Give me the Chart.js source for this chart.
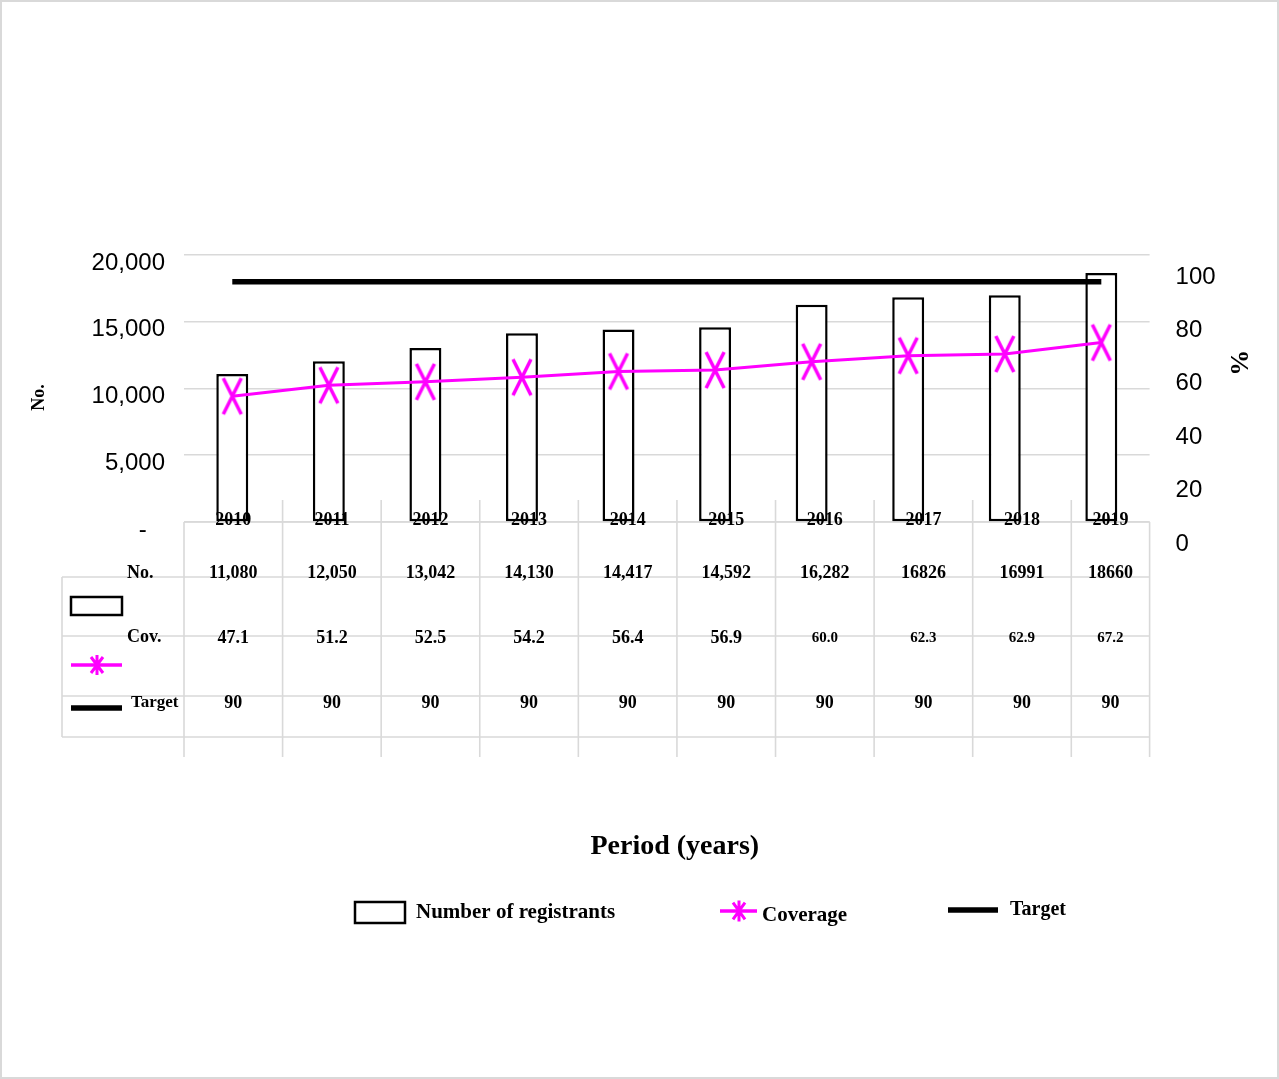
<!DOCTYPE html>
<html>
<head>
<meta charset="utf-8">
<title>Registrants and coverage, 2010–2019</title>
<script src="https://cdn.jsdelivr.net/npm/chart.js@4.4.1/dist/chart.umd.min.js"></script>
<style>
  html, body { margin: 0; padding: 0; background: #ffffff; }
  canvas { display: block; }
</style>
</head>
<body>
<canvas id="chart" width="1279" height="1079"></canvas>
<script>
// ---- data ----
const years = ['2010', '2011', '2012', '2013', '2014', '2015', '2016', '2017', '2018', '2019'];
const registrants = [11080, 12050, 13042, 14130, 14417, 14592, 16282, 16826, 16991, 18660];
const coverage = [47.1, 51.2, 52.5, 54.2, 56.4, 56.9, 60.0, 62.3, 62.9, 67.2];
const target = [90, 90, 90, 90, 90, 90, 90, 90, 90, 90];
// whether the "No." row of the data table shows thousands separators
const groupedDigits = [true, true, true, true, true, true, true, false, false, false];
const rowNames = ['No.', 'Cov.', 'Target'];
const seriesNames = ['Number of registrants', 'Coverage', 'Target'];

// ---- styling ----
const SERIF = '"Liberation Serif", "Times New Roman", serif';
const SANS = '"Liberation Sans", Arial, sans-serif';
const MAGENTA = '#ff00ff';
const GRID = '#d9d9d9';

// tall X marker used for the coverage points
function tallCross() {
  const c = document.createElement('canvas');
  c.width = 24; c.height = 40;
  const g = c.getContext('2d');
  g.strokeStyle = MAGENTA;
  g.lineWidth = 3.5;
  g.beginPath();
  g.moveTo(3, 2); g.lineTo(21, 38);
  g.moveTo(21, 2); g.lineTo(3, 38);
  g.stroke();
  return c;
}

function line(ctx, x1, y1, x2, y2) {
  ctx.beginPath();
  ctx.moveTo(x1, y1);
  ctx.lineTo(x2, y2);
  ctx.stroke();
}

// small asterisk used in the legend keys
function asterisk(ctx, cx, cy, w, h) {
  ctx.beginPath();
  ctx.moveTo(cx, cy - h / 2); ctx.lineTo(cx, cy + h / 2);
  ctx.moveTo(cx - w / 2, cy - h * 0.4); ctx.lineTo(cx + w / 2, cy + h * 0.4);
  ctx.moveTo(cx + w / 2, cy - h * 0.4); ctx.lineTo(cx - w / 2, cy + h * 0.4);
  ctx.stroke();
}

function barKey(ctx, x, y, w, h) {
  ctx.save();
  ctx.fillStyle = '#fff';
  ctx.strokeStyle = '#000';
  ctx.lineWidth = 2.5;
  ctx.fillRect(x, y, w, h);
  ctx.strokeRect(x, y, w, h);
  ctx.restore();
}
function coverageKey(ctx, x1, x2, y, starX, starW, starH) {
  ctx.save();
  ctx.strokeStyle = MAGENTA;
  ctx.lineWidth = 3.5;
  line(ctx, x1, y, x2, y);
  ctx.lineWidth = 3;
  asterisk(ctx, starX, y, starW, starH);
  ctx.restore();
}
function targetKey(ctx, x1, x2, y) {
  ctx.save();
  ctx.strokeStyle = '#000';
  ctx.lineWidth = 5.5;
  line(ctx, x1, y, x2, y);
  ctx.restore();
}

// table geometry derived from the category scale
function tableColumns(chart) {
  const area = chart.chartArea;
  const x = chart.scales.x;
  const catW = x.getPixelForValue(1) - x.getPixelForValue(0);
  const colW = catW * 1.021;
  const edges = [];
  for (let i = 0; i <= years.length; i++) {
    edges.push(Math.min(area.left + i * colW, area.right));
  }
  const centers = [];
  for (let i = 0; i < years.length; i++) centers.push((edges[i] + edges[i + 1]) / 2);
  return { edges, centers };
}

// data table under the plot area, plus the chart frame
const dataTable = {
  id: 'dataTable',
  beforeDraw(chart) {
    const ctx = chart.ctx;
    ctx.save();
    ctx.strokeStyle = GRID;
    ctx.lineWidth = 2;
    ctx.strokeRect(1, 1, chart.width - 2, chart.height - 2);
    ctx.restore();
  },
  beforeDatasetsDraw(chart) {
    const { ctx, chartArea: area } = chart;
    const { edges } = tableColumns(chart);
    const base = area.bottom;
    const rows = [base + 55, base + 114, base + 174, base + 215];
    const keyLeft = 62;
    ctx.save();
    ctx.strokeStyle = GRID;
    ctx.lineWidth = 1.6;
    line(ctx, area.left, base, area.right, base);
    rows.forEach(y => line(ctx, keyLeft, y, area.right, y));
    line(ctx, keyLeft, rows[0], keyLeft, rows[3]);
    edges.forEach((ex, i) => {
      const top = (i === 0 || i === edges.length - 1) ? base : base - 22;
      line(ctx, ex, top, ex, base + 235);
    });
    ctx.restore();
  },
  afterDatasetsDraw(chart) {
    const { ctx, chartArea: area } = chart;
    const { centers } = tableColumns(chart);
    const base = area.bottom;
    ctx.save();
    ctx.fillStyle = '#000';
    ctx.textAlign = 'center';
    ctx.textBaseline = 'middle';
    ctx.font = 'bold 18px ' + SERIF;

    // category header row
    years.forEach((yr, i) => ctx.fillText(yr, centers[i], base - 2));

    // value rows
    registrants.forEach((v, i) => {
      const txt = groupedDigits[i] ? v.toLocaleString('en-US') : String(v);
      ctx.fillText(txt, centers[i], base + 51);
    });
    coverage.forEach((v, i) => {
      ctx.font = 'bold ' + (i >= 6 ? 15 : 18) + 'px ' + SERIF;
      ctx.fillText(v.toFixed(1), centers[i], base + 116);
    });
    ctx.font = 'bold 18px ' + SERIF;
    target.forEach((v, i) => ctx.fillText(String(v), centers[i], base + 181));

    // row headers
    ctx.textAlign = 'left';
    ctx.fillText(rowNames[0], 127, base + 51);
    ctx.fillText(rowNames[1], 127, base + 115);
    ctx.font = 'bold 17px ' + SERIF;
    ctx.fillText(rowNames[2], 131, base + 181);

    // legend keys in the table
    barKey(ctx, 71, base + 75, 51, 18);
    coverageKey(ctx, 71, 122, base + 143, 97, 12, 20);
    targetKey(ctx, 71, 122, base + 186);

    // axis title for the categories
    ctx.textAlign = 'center';
    ctx.font = 'bold 28px ' + SERIF;
    ctx.fillText('Period (years)', (area.left + area.right) / 2 + 8, base + 325);

    // legend
    const labels = chart.data.datasets.map(d => d.label);
    const ly = base + 391;
    ctx.textAlign = 'left';
    ctx.font = 'bold 21px ' + SERIF;
    barKey(ctx, 355, ly - 11, 50, 21);
    ctx.fillText(labels[2], 416, ly);
    coverageKey(ctx, 720, 757, ly - 2, 739, 12, 21);
    ctx.fillText(labels[0], 762, ly + 3);
    targetKey(ctx, 948, 998, ly - 3);
    ctx.font = 'bold 20px ' + SERIF;
    ctx.fillText(labels[1], 1010, ly - 3);
    ctx.restore();
  }
};

const NBSP = '\u00a0';

new Chart(document.getElementById('chart'), {
  type: 'bar',
  data: {
    labels: years,
    datasets: [
      {
        type: 'line',
        label: seriesNames[1],
        data: coverage,
        yAxisID: 'y1',
        borderColor: MAGENTA,
        borderWidth: 3,
        pointStyle: tallCross(),
        pointRadius: 12,
        tension: 0,
        order: 0
      },
      {
        type: 'line',
        label: seriesNames[2],
        data: target,
        yAxisID: 'y1',
        borderColor: '#000',
        borderWidth: 5.5,
        pointRadius: 0,
        tension: 0,
        order: 1
      },
      {
        type: 'bar',
        label: seriesNames[0],
        data: registrants,
        yAxisID: 'y',
        backgroundColor: '#ffffff',
        borderColor: '#000000',
        borderWidth: 2.5,
        borderSkipped: false,
        barPercentage: 0.331,
        categoryPercentage: 1,
        order: 2
      }
    ]
  },
  options: {
    responsive: false,
    animation: false,
    events: [],
    layout: { padding: { left: 24, right: 21.4, top: 255, bottom: 557 } },
    plugins: {
      legend: { display: false },
      tooltip: { enabled: false }
    },
    scales: {
      x: {
        display: false,
        offset: true
      },
      y: {
        position: 'left',
        min: 0,
        max: 20000,
        ticks: {
          stepSize: 5000,
          padding: 19,
          labelOffset: 8,
          color: '#000',
          font: { family: SANS, size: 24 },
          callback: v => v === 0 ? '-' + NBSP + NBSP + '\u2009' : v.toLocaleString('en-US')
        },
        grid: { color: GRID, lineWidth: 1.6, drawTicks: false },
        border: { display: false },
        title: {
          display: true,
          text: 'No.' + NBSP.repeat(4),
          color: '#000',
          font: { family: SERIF, size: 18, weight: 'bold' },
          padding: { top: 5, bottom: 0 }
        },
        afterFit(scale) { scale.width = 160; }
      },
      y1: {
        position: 'right',
        min: 0,
        max: 100,
        ticks: {
          stepSize: 20,
          padding: 26,
          labelOffset: 22,
          color: '#000',
          font: { family: SANS, size: 24 }
        },
        grid: { display: false, drawTicks: false, drawOnChartArea: false },
        border: { display: false },
        title: {
          display: true,
          text: '%' + NBSP.repeat(8),
          color: '#000',
          font: { family: SERIF, size: 26, weight: 'bold' },
          padding: { top: 4, bottom: 0 }
        },
        afterFit(scale) { scale.width = 108; }
      }
    }
  },
  plugins: [dataTable]
});
</script>
</body>
</html>
